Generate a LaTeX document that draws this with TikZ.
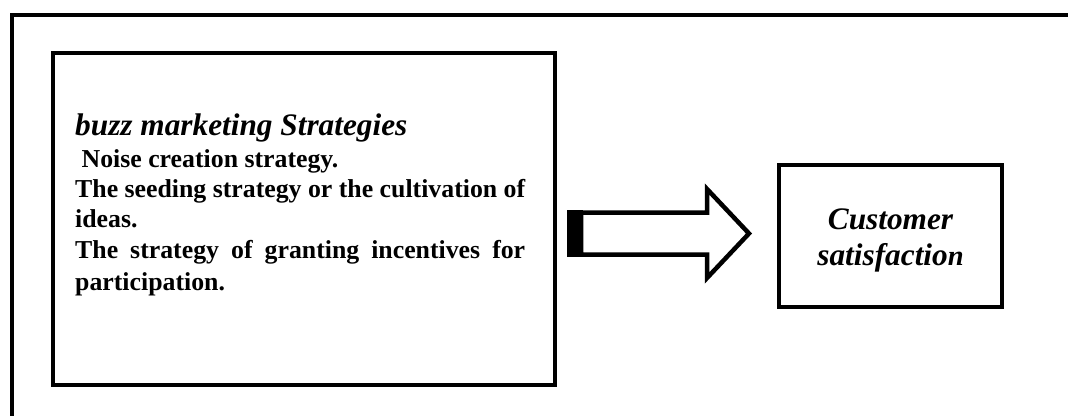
\documentclass[tikz,border=0pt]{standalone}
\usepackage{fontspec}
\setmainfont{Liberation Serif}
\begin{document}
\begin{tikzpicture}[x=1pt,y=-1pt,
  frame/.style={line width=4.5pt},
  boxstyle/.style={draw,line width=4.5pt,inner sep=0pt},
  txt/.style={inner sep=0pt,anchor=base west,font=\fontsize{25.8}{30}\selectfont\bfseries},
  ttl/.style={inner sep=0pt,font=\fontsize{31.3}{36}\selectfont\bfseries\itshape}]
\useasboundingbox (0,0) rectangle (1068,415);
% outer frame
\draw[frame] (12,420) -- (12,15) -- (1075,15);
% boxes
\node[boxstyle,minimum width=502pt,minimum height=332pt] (left) at (304,219) {};
\node[boxstyle,minimum width=223pt,minimum height=142pt] (right) at (890.5,236) {};
% left text
\node[ttl,anchor=base west] (title) at (75,135) {buzz marketing Strategies};
\node[txt] (l1) at (75,167) {\ Noise creation strategy.};
\node[txt] (l2) at (75,197) {The seeding strategy or the cultivation of};
\node[txt] (l3) at (75,227) {ideas.};
\node[txt] (l4) at (75,258) {\makebox[450pt][s]{The strategy of granting incentives for}};
\node[txt] (l5) at (75,290) {participation.};
% right text
\node[ttl,anchor=base] (r1) at (890.5,229) {Customer};
\node[ttl,anchor=base] (r2) at (890.5,265) {satisfactio{\fontsize{28.5}{34}\selectfont n}};
% block arrow between the boxes
\fill (567,210) rectangle (583,257);
\draw[line width=4.5pt,line join=miter] (581,212.5) -- (707,212.5) -- (707,189) -- (749,233.5) -- (707,278) -- (707,254.5) -- (581,254.5) -- cycle;
\end{tikzpicture}
\end{document}
